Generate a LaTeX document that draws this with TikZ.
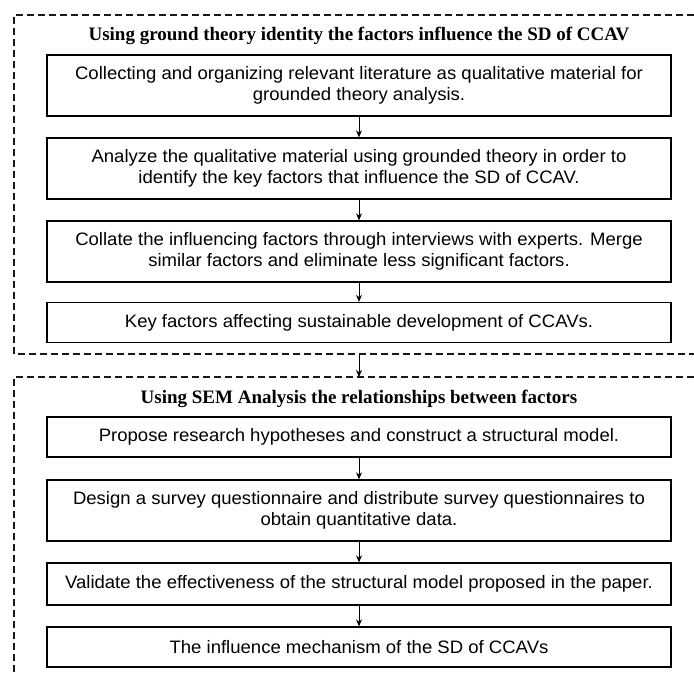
\documentclass[tikz,border=0pt]{standalone}
\usepackage{fontspec}
\setmainfont{Liberation Serif}
\newfontfamily\boxfont[FakeStretch=1.03]{Liberation Sans}
\usetikzlibrary{arrows.meta}

\begin{document}
\begin{tikzpicture}[
  x=1pt, y=-1pt,
  stepbox/.style={draw, line width=1.3pt, minimum width=624pt, inner sep=0pt, align=center, font=\boxfont\fontsize{18}{21.5}\selectfont},
  tallbox/.style={stepbox, minimum height=61pt},
  flatbox/.style={stepbox, minimum height=40pt},
  grptitle/.style={font=\bfseries\fontsize{19}{22}\selectfont},
  arr/.style={-{Stealth[length=7pt, width=6pt]}, line width=1pt},
  grp/.style={dash pattern=on 7pt off 4pt, line width=1.2pt, draw=black!90}
]
\useasboundingbox (0,0) rectangle (694,675);

% Column
\def\Cx{359}

% Group frames (cut off at the right and bottom)
\draw[grp] (694, 15) -- (14, 15) -- (14, 354) -- (694, 354);
\draw[grp] (694, 377) -- (14, 377) -- (14, 675);

% Group 1
\node[grptitle] (t1) at (\Cx, 36) {Using ground theory identity the factors influence the SD of CCAV};
\node[tallbox] (b1) at (\Cx, 85.5) {Collecting and organizing relevant literature as qualitative material for\\grounded theory analysis.};
\node[tallbox] (b2) at (\Cx, 168.5) {Analyze the qualitative material using grounded theory in order to\\identify the key factors that influence the SD of CCAV.};
\node[tallbox] (b3) at (\Cx, 251.5) {Collate the influencing factors through interviews with experts. Merge\\similar factors and eliminate less significant factors.};
\node[flatbox] (b4) at (\Cx, 322.5) {Key factors affecting sustainable development of CCAVs.};

\draw[arr] (b1) -- (b2);
\draw[arr] (b2) -- (b3);
\draw[arr] (b3) -- (b4);

% Between groups
\coordinate (g1) at (\Cx, 354);
\coordinate (g2) at (\Cx, 377);
\draw[arr] (g1) -- (g2);

% Group 2
\node[grptitle] (t2) at (\Cx, 399) {Using SEM Analysis the relationships between factors};
\node[flatbox] (b5) at (\Cx, 437) {Propose research hypotheses and construct a structural model.};
\node[tallbox] (b6) at (\Cx, 510.5) {Design a survey questionnaire and distribute survey questionnaires to\\obtain quantitative data.};
\node[flatbox, minimum height=42pt] (b7) at (\Cx, 584) {Validate the effectiveness of the structural model proposed in the paper.};
\node[flatbox] (b8) at (\Cx, 647) {The influence mechanism of the SD of CCAVs};

\draw[arr] (b5) -- (b6);
\draw[arr] (b6) -- (b7);
\draw[arr] (b7) -- (b8);

\end{tikzpicture}
\end{document}
